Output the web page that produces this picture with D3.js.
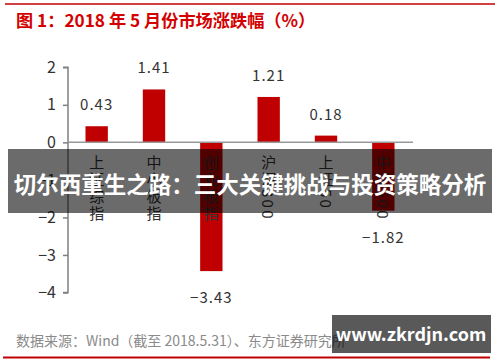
<!DOCTYPE html>
<html>
<head>
<meta charset="utf-8">
<script src="https://cdn.jsdelivr.net/npm/d3@7"></script>
<style>
  body { margin: 0; background: #fff; }
  svg { display: block; font-family: "Noto Sans CJK SC", "Noto Sans", sans-serif; }
</style>
</head>
<body>
<div id="chart"></div>
<script>
const categories = ["上证综指", "中小板指", "创业板指", "沪深300", "上证50", "中证500"];
const values = [0.43, 1.41, -3.43, 1.21, 0.18, -1.82];
const yTicks = [-4, -3, -2, -1, 0, 1, 2];

const titleText = "图 1：2018 年 5 月份市场涨跌幅（%）";
const sourceText = "数据来源：Wind（截至 2018.5.31）、东方证券研究所";
const bannerText = "切尔西重生之路：三大关键挑战与投资策略分析";
const siteText = "www.zkrdjn.com";

const width = 500, height = 362;
const red = "#c00000";

const svg = d3.select("#chart").append("svg")
  .attr("width", width)
  .attr("height", height);

// top and bottom rules
svg.append("line")
  .attr("x1", 5).attr("x2", 495).attr("y1", 4).attr("y2", 4)
  .attr("stroke", red).attr("stroke-width", 1.5);
svg.append("line")
  .attr("x1", 3).attr("x2", 490).attr("y1", 357.5).attr("y2", 357.5)
  .attr("stroke", red).attr("stroke-width", 2);

svg.append("text")
  .attr("x", 16).attr("y", 26.5)
  .attr("fill", "#d40000")
  .attr("font-size", 17.2)
  .attr("font-weight", "bold")
  .text(titleText);

const xScale = d3.scaleBand()
  .domain(categories)
  .range([68, 412])
  .paddingInner(0.61)
  .paddingOuter(0.305);

const yScale = d3.scaleLinear()
  .domain([-4, 2])
  .range([292.5, 67.3]);

// y axis
const yAxis = svg.append("g")
  .attr("transform", "translate(68,0)")
  .call(d3.axisLeft(yScale).tickValues(yTicks).tickFormat(d3.format("d")).tickSize(5).tickPadding(7));
yAxis.select(".domain").attr("stroke", "#808080").attr("stroke-width", 1.5)
  .attr("d", `M-5,${yScale(2)}H0V${yScale(-4)}H-5`);
yAxis.selectAll(".tick line").attr("stroke", "#808080").attr("stroke-width", 1.5);
yAxis.selectAll(".tick text")
  .attr("fill", "#333")
  .attr("font-size", 16)
  .attr("font-family", "\"Noto Sans CJK SC\", sans-serif");

// bars
svg.append("g").selectAll("rect")
  .data(values)
  .join("rect")
  .attr("x", (d, i) => xScale(categories[i]))
  .attr("y", d => yScale(Math.max(0, d)))
  .attr("width", xScale.bandwidth())
  .attr("height", d => Math.abs(yScale(d) - yScale(0)))
  .attr("fill", red);

// zero line
svg.append("line")
  .attr("x1", 68).attr("x2", 413)
  .attr("y1", yScale(0)).attr("y2", yScale(0))
  .attr("stroke", "#999").attr("stroke-width", 1.5);

// value labels
svg.append("g").selectAll("text")
  .data(values)
  .join("text")
  .attr("x", (d, i) => xScale(categories[i]) + xScale.bandwidth() / 2)
  .attr("y", d => d >= 0 ? yScale(d) - 16 : yScale(d) + 32)
  .attr("text-anchor", "middle")
  .attr("fill", "#333")
  .attr("font-size", 15)
  .attr("letter-spacing", 1)
  .text(d => d < 0 ? "−" + Math.abs(d).toFixed(2) : d.toFixed(2));

// vertical category labels
svg.append("g").selectAll("text")
  .data(categories)
  .join("text")
  .attr("x", d => xScale(d) + xScale.bandwidth() / 2)
  .attr("y", yScale(0) + 12)
  .style("writing-mode", "vertical-rl")
  .attr("fill", "#333")
  .attr("font-size", 15)
  .attr("letter-spacing", 2.3)
  .text(d => d);

// watermark banner across the middle
svg.append("rect")
  .attr("x", 8).attr("y", 149)
  .attr("width", 484).attr("height", 64)
  .attr("fill", "rgba(0,0,0,0.58)");
svg.append("text")
  .attr("x", 250).attr("y", 193)
  .attr("text-anchor", "middle")
  .attr("fill", "#fff")
  .attr("font-size", 22.5)
  .attr("font-weight", "bold")
  .text(bannerText);

// source
svg.append("text")
  .attr("x", 16).attr("y", 346)
  .attr("fill", "#8a8a8a")
  .attr("font-size", 14)
  .text(sourceText);

// site watermark
svg.append("rect")
  .attr("x", 332).attr("y", 315)
  .attr("width", 159).attr("height", 38)
  .attr("fill", "rgba(0,0,0,0.65)");
svg.append("text")
  .attr("x", 411).attr("y", 341)
  .attr("text-anchor", "middle")
  .attr("fill", "#fff")
  .attr("font-size", 18)
  .attr("font-weight", "bold")
  .text(siteText);
</script>
</body>
</html>
